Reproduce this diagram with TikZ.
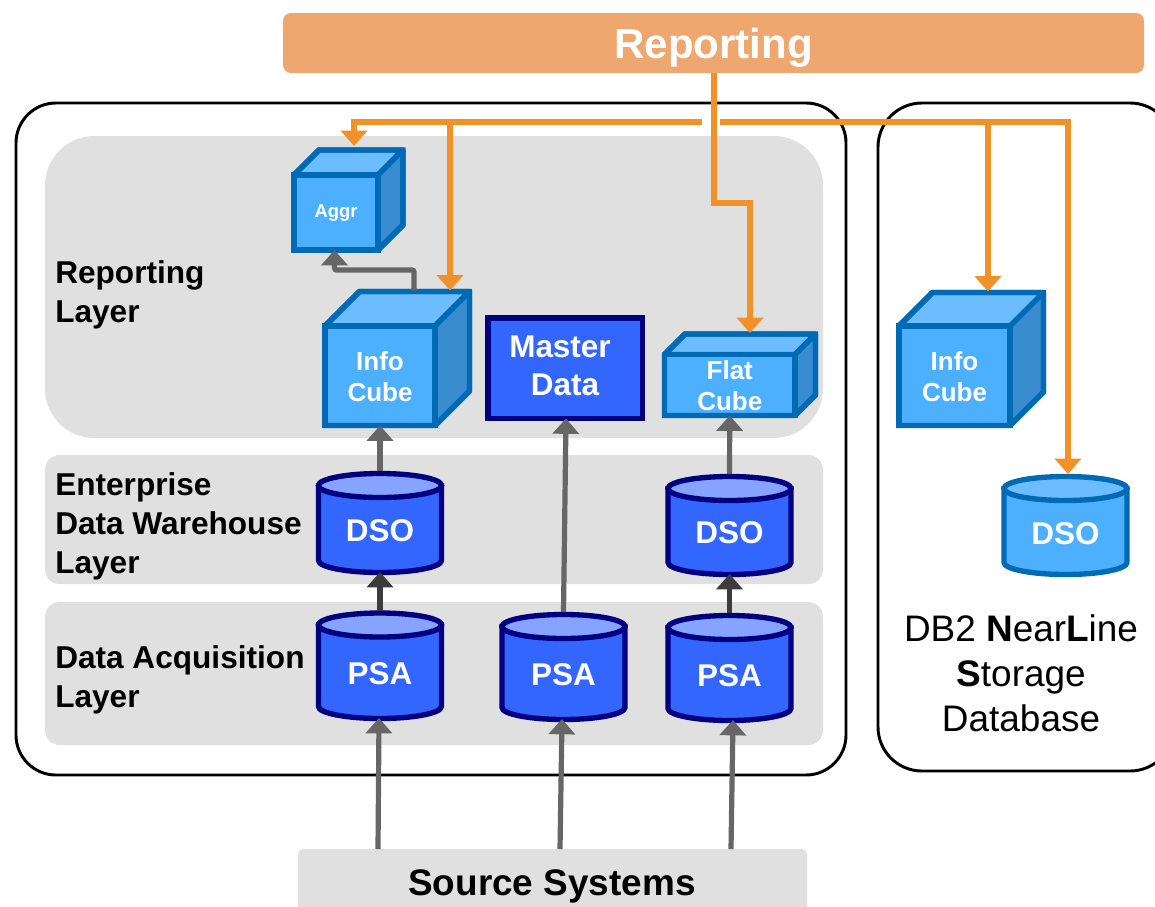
\documentclass[tikz,border=0pt]{standalone}
\usepackage{fontspec}
\setmainfont{Liberation Sans}
\usetikzlibrary{arrows.meta,fit,calc}
\definecolor{panelgray}{HTML}{E0E0E0}
\definecolor{repbar}{HTML}{EEA76E}
\definecolor{orangeline}{HTML}{F29128}
\definecolor{linegray}{HTML}{666666}
\definecolor{linedark}{HTML}{3C3C3C}
\definecolor{cubeedge}{HTML}{006AB5}
\definecolor{cubefront}{HTML}{4DB0FF}
\definecolor{cubetop}{HTML}{6CBDFF}
\definecolor{cubeside}{HTML}{3A8CD0}
\definecolor{dbblue}{HTML}{3366FF}
\definecolor{dbtop}{HTML}{85A3FF}
\definecolor{dbedge}{HTML}{000080}
\tikzset{
  x=0.75pt,y=-0.75pt,
  box/.style={inner sep=0pt,outer sep=0pt,line width=2.2pt,draw=black,rounded corners=#1},
  panel/.style={inner sep=0pt,outer sep=0pt,fill=panelgray,rounded corners=#1},
  layerlabel/.style={inner sep=0pt,anchor=west,align=left,font=\fontsize{23.7}{29.2}\selectfont\bfseries},
  whitetext/.style={text=white,align=center,inner sep=0pt,font=\fontsize{#1}{23.3}\selectfont\bfseries},
  shapeface/.style={line width=4pt,line join=miter},
  orangearrow/.style={draw=orangeline,line width=3.9pt,-{Triangle[length=11.5pt,width=19.5pt]}},
  grayarrow/.style={draw=#1,line width=3.9pt,-{Triangle[length=11.5pt,width=19.5pt]}},
}
% name, x1, y1, x2, y2, depth, text size, text
\newcommand{\cubeat}[8]{%
  \filldraw[shapeface,miter limit=1,draw=cubeedge,fill=cubetop] (#2,#3) -- (#2+#6,#3-#6) -- (#4+#6,#3-#6) -- (#4,#3) -- cycle;
  \filldraw[shapeface,miter limit=1,draw=cubeedge,fill=cubeside] (#4,#3) -- (#4+#6,#3-#6) -- (#4+#6,#5-#6) -- (#4,#5) -- cycle;
  \node[fit={(#2,#3)(#4,#5)},inner sep=0pt,outer sep=0pt,shapeface,draw=cubeedge,fill=cubefront] (#1) {};
  \draw[shapeface,draw=cubeedge] (#2,#3) -- (#2+#6,#3-#6) -- (#4+#6,#3-#6) -- (#4+#6,#5-#6) -- (#4,#5) -- (#2,#5) -- cycle;
  \node[whitetext=#7] (#1-label) at ($(#1.center)+(0,1)$) {#8};
  \coordinate (#1-top) at (#2+#6/2+#4/2-#2/2,#3-#6-1);
}
% name, cx, top ellipse y, bottom ellipse y, fill, top fill, edge, text, text y
\newcommand{\cylat}[9]{%
  \filldraw[shapeface,draw=#7,fill=#5] (#2-61.5,#3) -- (#2-61.5,#4) arc[start angle=180,end angle=360,x radius=46.1pt,y radius=9pt] -- (#2+61.5,#3) -- cycle;
  \filldraw[shapeface,draw=#7,fill=#6] (#2,#3) ellipse[x radius=46.1pt,y radius=9pt];
  \node[fit={(#2-64,#3-14.5)(#2+64,#4+11.5)},inner sep=0pt,outer sep=0pt] (#1) {};
  \node[whitetext=23.6] (#1-label) at (#2,#9) {#8};
}
\begin{document}
\begin{tikzpicture}
\useasboundingbox (0,0) rectangle (1155,906);
\begin{scope}
\clip (0,0) rectangle (1155,906);
% containers
\node[box=30pt,fit={(16,103)(846,775)}] (main) {};
\node[box=33pt,fit={(878,103)(1174,771)}] (nearline) {};
\node[panel=37pt,fit={(45,136)(823,438)}] (replayer) {};
\node[panel=11pt,fit={(45,455)(823,584)}] (edwlayer) {};
\node[panel=11pt,fit={(45,602)(823,745)}] (acqlayer) {};
\node[panel=4pt,fit={(298,849)(807,915)}] (source) {};
\node[inner sep=0pt,font=\fontsize{27.7}{30}\selectfont\bfseries] (sourcelabel) at (552,886) {Source Systems};
\node[panel=6pt,fill=repbar,fit={(283,13)(1144,73)}] (reporting) {};
\node[inner sep=0pt,text=white,font=\fontsize{31.5}{34}\selectfont\bfseries] (reportinglabel) at (713.5,48) {Reporting};
\end{scope}
% layer labels
\node[layerlabel] (lblrep) at (55,294.5) {Reporting\\Layer};
\node[layerlabel] (lbledw) at (55,526) {Enterprise\\Data Warehouse\\Layer};
\node[layerlabel] (lblacq) at (55,679.5) {Data Acquisition\\Layer};
% right-hand caption
\node[inner sep=0pt,align=center,font=\fontsize{27.7}{33.75}\selectfont] (nlcaption) at (1021,673) {DB2 \textbf{N}ear\textbf{L}ine\\\textbf{S}torage\\Database};
% cubes
\cubeat{aggr}{294}{175}{378}{250}{25}{13.8}{\raisebox{-1pt}{Aggr}}
\cubeat{info}{325}{326}{435}{425.5}{34.5}{19.5}{Info\\Cube}
\cubeat{flat}{664.5}{354.5}{795}{415.5}{20.5}{19.5}{Flat\\Cube}
\cubeat{infonl}{899}{326}{1010}{425.5}{33.5}{19.5}{Info\\Cube}
% master data
\node[fit={(488,318)(642.5,418.5)},inner sep=0pt,outer sep=0pt,shapeface,draw=dbedge,fill=dbblue] (master) {};
\node[inner sep=0pt,text=white,align=center,font=\fontsize{23.6}{28.5}\selectfont\bfseries] (masterlabel) at (565,366) {Master\kern7.5pt\\Data};
% cylinders
\cylat{dsoa}{380}{485.5}{560.5}{dbblue}{dbtop}{dbedge}{DSO}{531}
\cylat{psaa}{380}{625}{706.5}{dbblue}{dbtop}{dbedge}{PSA}{674}
\cylat{psab}{563.5}{626.5}{707.5}{dbblue}{dbtop}{dbedge}{PSA}{675}
\cylat{dsob}{729.5}{488.5}{562.5}{dbblue}{dbtop}{dbedge}{DSO}{533}
\cylat{psac}{729.5}{627.5}{708.5}{dbblue}{dbtop}{dbedge}{PSA}{676}
\cylat{dsonl}{1065.5}{488.5}{562.5}{cubefront}{cubetop}{cubeedge}{DSO}{534}
% gray connectors
\draw[grayarrow=linegray] (source.north -| 378,0) -- (psaa.south -| 379,0);
\draw[grayarrow=linegray] (source.north -| 560,0) -- (psab.south -| 562,0);
\draw[grayarrow=linegray] (source.north -| 731,0) -- (psac.south -| 733,0);
\draw[grayarrow=linedark] (psaa.north) -- (dsoa.south);
\draw[grayarrow=linedark] (psac.north) -- (dsob.south);
\draw[grayarrow=linegray] (dsoa.north) -- (info.south);
\draw[grayarrow=linegray] (dsob.north) -- (flat.south);
\draw[grayarrow=linegray] (psab.north) -- (master.south -| 566,0);
\draw[grayarrow=linegray,rounded corners=1.5pt] (info-top -| 414,0) -- (414,270) -- (334.5,270) -- (aggr.south -| 334.5,0);
% orange connectors
\coordinate (gapleft) at (702,122);
\coordinate (gapright) at (720,122);
\coordinate (busend) at (1068,122);
\draw[orangearrow] (reporting.south -| 714,0) -- (714,203) -- (750,203) -- (flat-top -| 750,0);
\draw[orangearrow] (gapleft) -- (354,122) -- (354,146);
\draw[orangearrow] (gapright) -- (busend) -- (dsonl.north -| 1068,0);
\draw[orangearrow] (450,122) -- (info-top -| 450,0);
\draw[orangearrow] (988,122) -- (infonl-top -| 988,0);
\end{tikzpicture}
\end{document}
